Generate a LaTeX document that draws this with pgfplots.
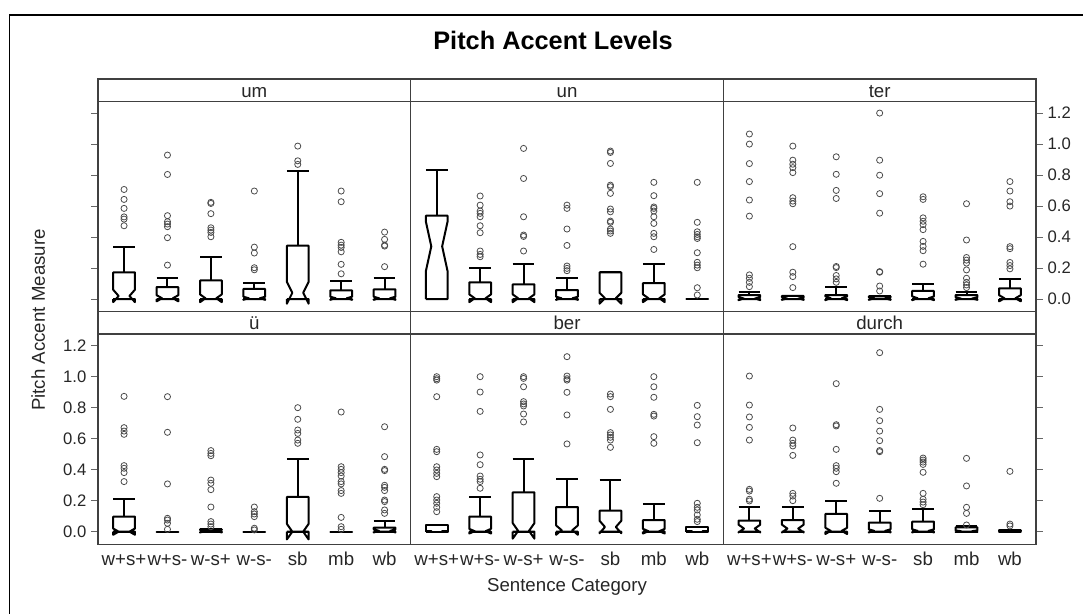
\documentclass[border=0pt]{standalone}
\usepackage{fontspec}
\setmainfont{Liberation Sans}
\usepackage{pgfplots}
\pgfplotsset{compat=1.18}

% notched box: x, median, notch half-height, upper quartile, upper whisker (lower quartile = lower whisker = 0)
\newcommand\nb[5]{%
 \pgfmathsetmacro\nbXa{#1-0.25}\pgfmathsetmacro\nbXb{#1+0.25}%
 \pgfmathsetmacro\nbXc{#1-0.125}\pgfmathsetmacro\nbXd{#1+0.125}%
 \pgfmathsetmacro\nbLo{#2-#3}\pgfmathsetmacro\nbHi{#2+#3}%
 \edef\nbtmp{%
  \noexpand\addplot[bx] coordinates {(\nbXa,0) (\nbXa,\nbLo) (\nbXc,#2) (\nbXa,\nbHi) (\nbXa,#4) (\nbXb,#4) (\nbXb,\nbHi) (\nbXd,#2) (\nbXb,\nbLo) (\nbXb,0) (\nbXa,0)};
  \noexpand\addplot[bx] coordinates {(#1,#4) (#1,#5)};
  \noexpand\addplot[bx] coordinates {(\nbXa,#5) (\nbXb,#5)};
  \noexpand\addplot[bx] coordinates {(\nbXa,0) (\nbXb,0)};}%
 \nbtmp}

\pgfplotsset{
 panel/.style={scale only axis, width=234.5pt, height=157.725pt,
   xmin=0.4, xmax=7.6, ymin=-0.081, ymax=1.276,
   axis line style={black!75, line width=0.9pt},
   tick align=outside, major tick length=5.25pt,
   ytick={0,0.2,0.4,0.6,0.8,1.0,1.2},
   yticklabels={0.0,0.2,0.4,0.6,0.8,1.0,1.2},
   tick style={black!60, line width=0.8pt},
   xtick=\empty,
   yticklabel style={font=\fontsize{12.5}{14}\selectfont, text=black!85},
   clip=false},
 noylab/.style={yticklabels={,,,,,,}},
 bx/.style={black, line width=1.5pt, mark=none, line join=round},
 outl/.style={only marks, mark=o, mark size=2.3pt, mark options={black!70, line width=0.6pt}},
 xlab/.style={xtick={1,2,3,4,5,6,7}, xticklabels={w+s+,w+s-,w-s+,w-s-,sb,mb,wb},
   xtick style={draw=none},
   xticklabel style={font=\fontsize{14}{16}\selectfont, text=black!85, anchor=base, yshift=-10.35pt}}
}

\begin{document}
\begin{tikzpicture}
\useasboundingbox (0,0) rectangle (812.25pt,-460.5pt);
\draw[black, line width=1pt] (7pt,-470pt) -- (7pt,-11.25pt) -- (830pt,-11.25pt);

% ---------- top row ----------
\begin{axis}[panel, at={(73.5pt,-233.7pt)}, anchor=south west, ytick pos=left, noylab]
\nb{1}{0.02}{0.04}{0.172}{0.338}
\nb{2}{0.005}{0.02}{0.077}{0.138}
\nb{3}{0.005}{0.025}{0.12}{0.269}
\nb{4}{0.005}{0.01}{0.065}{0.105}
\nb{5}{0.04}{0.07}{0.344}{0.826}
\nb{6}{0.005}{0.01}{0.056}{0.118}
\nb{7}{0.005}{0.01}{0.062}{0.133}
\addplot[outl] coordinates {(1,0.707)(1,0.643)(1,0.585)(1,0.53)(1,0.516)(1,0.473)
 (2,0.929)(2,0.804)(2,0.538)(2,0.499)(2,0.484)(2,0.467)(2,0.396)(2,0.219)
 (3,0.624)(3,0.617)(3,0.551)(3,0.46)(3,0.445)(3,0.43)(3,0.402)
 (4,0.697)(4,0.335)(4,0.297)(4,0.202)(4,0.189)
 (5,0.987)(5,0.892)(5,0.869)
 (6,0.697)(6,0.628)(6,0.366)(6,0.348)(6,0.333)(6,0.305)(6,0.224)(6,0.163)
 (7,0.432)(7,0.385)(7,0.348)(7,0.342)(7,0.209)};
\end{axis}

\begin{axis}[panel, at={(308pt,-233.7pt)}, anchor=south west, ytick=\empty]
\nb{1}{0.34}{0.16}{0.538}{0.832}
\nb{2}{0.005}{0.025}{0.108}{0.202}
\nb{3}{0.005}{0.025}{0.095}{0.228}
\nb{4}{0.005}{0.01}{0.058}{0.133}
\nb{5}{0.005}{0.035}{0.172}{0.172}
\nb{6}{0.005}{0.025}{0.103}{0.228}
\nb{7}{0}{0}{0}{0}
\addplot[outl] coordinates {
 (2,0.665)(2,0.606)(2,0.568)(2,0.553)(2,0.531)(2,0.473)(2,0.428)(2,0.31)(2,0.288)(2,0.273)
 (3,0.972)(3,0.778)(3,0.531)(3,0.413)(3,0.404)(3,0.31)
 (4,0.606)(4,0.585)(4,0.452)(4,0.346)(4,0.213)(4,0.198)(4,0.183)
 (5,0.955)(5,0.946)(5,0.875)(5,0.735)(5,0.725)(5,0.682)(5,0.581)(5,0.563)(5,0.503)(5,0.495)(5,0.452)(5,0.439)(5,0.424)
 (6,0.753)(6,0.667)(6,0.594)(6,0.585)(6,0.568)(6,0.531)(6,0.488)(6,0.424)(6,0.402)(6,0.32)
 (7,0.753)(7,0.495)(7,0.434)(7,0.417)(7,0.402)(7,0.391)(7,0.299)(7,0.237)(7,0.219)(7,0.202)(7,0.073)(7,0.026)};
\end{axis}

\begin{axis}[panel, at={(542.5pt,-233.7pt)}, anchor=south west, ytick pos=right, yticklabel pos=right]
\nb{1}{0.003}{0.01}{0.026}{0.043}
\nb{2}{0.003}{0.008}{0.02}{0.02}
\nb{3}{0.005}{0.012}{0.026}{0.078}
\nb{4}{0.003}{0.008}{0.017}{0.02}
\nb{5}{0.005}{0.012}{0.052}{0.095}
\nb{6}{0.003}{0.008}{0.026}{0.048}
\nb{7}{0.005}{0.02}{0.069}{0.13}
\addplot[outl] coordinates {
 (1,1.065)(1,1.0)(1,0.874)(1,0.758)(1,0.639)(1,0.535)(1,0.156)(1,0.134)(1,0.108)(1,0.08)
 (2,0.987)(2,0.896)(2,0.87)(2,0.848)(2,0.816)(2,0.654)(2,0.632)(2,0.615)(2,0.338)(2,0.173)(2,0.145)(2,0.074)
 (3,0.918)(3,0.805)(3,0.701)(3,0.649)(3,0.21)(3,0.203)(3,0.152)(3,0.13)(3,0.108)
 (4,1.2)(4,0.896)(4,0.799)(4,0.68)(4,0.554)(4,0.177)(4,0.173)(4,0.084)(4,0.052)
 (5,0.66)(5,0.643)(5,0.524)(5,0.502)(5,0.48)(5,0.448)(5,0.372)(5,0.34)(5,0.312)(5,0.225)
 (6,0.615)(6,0.381)(6,0.268)(6,0.251)(6,0.232)(6,0.188)(6,0.134)(6,0.108)(6,0.091)(6,0.074)
 (7,0.758)(7,0.697)(7,0.628)(7,0.6)(7,0.338)(7,0.325)(7,0.236)(7,0.216)(7,0.195)};
\end{axis}

% ---------- bottom row ----------
\begin{axis}[panel, xlab, at={(73.5pt,-408.15pt)}, anchor=south west, ytick pos=left]
\nb{1}{0.0}{0.02}{0.097}{0.213}
\nb{2}{0}{0}{0}{0}
\nb{3}{0.003}{0.008}{0.015}{0.015}
\nb{4}{0}{0}{0}{0}
\nb{5}{0.0}{0.05}{0.224}{0.469}
\nb{6}{0}{0}{0}{0}
\nb{7}{0.005}{0.01}{0.026}{0.069}
\addplot[outl] coordinates {
 (1,0.873)(1,0.671)(1,0.649)(1,0.628)(1,0.426)(1,0.409)(1,0.381)(1,0.323)
 (2,0.871)(2,0.641)(2,0.308)(2,0.086)(2,0.075)(2,0.054)(2,0.015)
 (3,0.523)(3,0.505)(3,0.49)(3,0.333)(3,0.312)(3,0.271)(3,0.159)(3,0.065)(3,0.049)(3,0.032)
 (4,0.159)(4,0.129)(4,0.114)(4,0.097)(4,0.022)(4,0.011)
 (5,0.8)(5,0.725)(5,0.656)(5,0.634)(5,0.591)(5,0.57)
 (6,0.772)(6,0.419)(6,0.402)(6,0.381)(6,0.359)(6,0.323)(6,0.308)(6,0.265)(6,0.247)(6,0.092)(6,0.032)(6,0.015)
 (7,0.677)(7,0.484)(7,0.402)(7,0.394)(7,0.299)(7,0.286)(7,0.265)(7,0.204)(7,0.194)(7,0.14)(7,0.118)};
\end{axis}

\begin{axis}[panel, xlab, at={(308pt,-408.15pt)}, anchor=south west, ytick=\empty]
\nb{1}{0.003}{0}{0.041}{0.041}
\nb{2}{0.003}{0.015}{0.097}{0.224}
\nb{3}{0.005}{0.05}{0.254}{0.471}
\nb{4}{0.01}{0.03}{0.159}{0.34}
\nb{5}{0.03}{0.04}{0.135}{0.331}
\nb{6}{0.003}{0.015}{0.075}{0.178}
\nb{7}{0.003}{0}{0.028}{0.028}
\addplot[outl] coordinates {
 (1,1.0)(1,0.987)(1,0.978)(1,0.871)(1,0.531)(1,0.516)(1,0.419)(1,0.398)(1,0.376)(1,0.355)(1,0.226)(1,0.204)(1,0.183)(1,0.157)(1,0.129)
 (2,1.0)(2,0.901)(2,0.776)(2,0.495)(2,0.432)(2,0.359)(2,0.338)(2,0.323)(2,0.28)
 (3,1.0)(3,0.989)(3,0.935)(3,0.839)(3,0.824)(3,0.811)(3,0.759)(3,0.708)
 (4,1.129)(4,1.004)(4,0.987)(4,0.978)(4,0.899)(4,0.753)(4,0.566)
 (5,0.888)(5,0.871)(5,0.789)(5,0.639)(5,0.624)(5,0.609)(5,0.591)(5,0.544)
 (6,1.0)(6,0.935)(6,0.867)(6,0.757)(6,0.746)(6,0.613)(6,0.57)
 (7,0.815)(7,0.742)(7,0.688)(7,0.574)(7,0.183)(7,0.157)(7,0.14)(7,0.108)(7,0.08)(7,0.065)};
\end{axis}

\begin{axis}[panel, xlab, at={(542.5pt,-408.15pt)}, anchor=south west, ytick pos=right, noylab]
\nb{1}{0.02}{0.025}{0.071}{0.157}
\nb{2}{0.02}{0.025}{0.075}{0.159}
\nb{3}{0.005}{0.02}{0.114}{0.196}
\nb{4}{0.005}{0.01}{0.058}{0.133}
\nb{5}{0.005}{0.01}{0.065}{0.144}
\nb{6}{0.003}{0.005}{0.028}{0.037}
\nb{7}{0.002}{0.003}{0.01}{0.01}
\addplot[outl] coordinates {
 (1,1.004)(1,0.817)(1,0.74)(1,0.673)(1,0.591)(1,0.273)(1,0.262)(1,0.209)(1,0.198)
 (2,0.669)(2,0.591)(2,0.57)(2,0.553)(2,0.492)(2,0.247)(2,0.23)(2,0.2)
 (3,0.955)(3,0.69)(3,0.682)(3,0.531)(3,0.426)(3,0.409)(3,0.387)(3,0.312)
 (4,1.155)(4,0.789)(4,0.716)(4,0.649)(4,0.587)(4,0.523)(4,0.516)(4,0.215)
 (5,0.475)(5,0.462)(5,0.449)(5,0.434)(5,0.383)(5,0.247)(5,0.209)(5,0.191)(5,0.174)
 (6,0.473)(6,0.295)(6,0.157)(6,0.118)(6,0.043)
 (7,0.389)(7,0.049)(7,0.037)};
\end{axis}

% ---------- strips ----------
\begin{scope}[black!75, line width=0.9pt]
\draw (73.5pt,-59.25pt) rectangle (777pt,-75.975pt);
\draw (308pt,-59.25pt) -- (308pt,-75.975pt);
\draw (542.5pt,-59.25pt) -- (542.5pt,-75.975pt);
\draw (73.5pt,-233.7pt) rectangle (777pt,-250.425pt);
\draw (308pt,-233.7pt) -- (308pt,-250.425pt);
\draw (542.5pt,-233.7pt) -- (542.5pt,-250.425pt);
\end{scope}
\begin{scope}[every node/.style={anchor=base, inner sep=0pt, font=\fontsize{14}{16}\selectfont, text=black!85}]
\node at (190.75pt,-72.975pt) {um};
\node at (425.25pt,-72.975pt) {un};
\node at (659.75pt,-72.975pt) {ter};
\node at (190.75pt,-247.425pt) {ü};
\node at (425.25pt,-247.425pt) {ber};
\node at (659.75pt,-247.425pt) {durch};
\end{scope}

% ---------- titles ----------
\node[anchor=base, inner sep=0pt, font=\bfseries\fontsize{19}{22}\selectfont] at (414.75pt,-36.975pt) {Pitch Accent Levels};
\node[anchor=base, inner sep=0pt, font=\fontsize{14}{16}\selectfont, text=black!85] at (425.25pt,-443.775pt) {Sentence Category};
\node[anchor=base, inner sep=0pt, rotate=90, font=\fontsize{14}{16}\selectfont, text=black!85] at (33.75pt,-240pt) {Pitch Accent Measure};
\end{tikzpicture}
\end{document}
